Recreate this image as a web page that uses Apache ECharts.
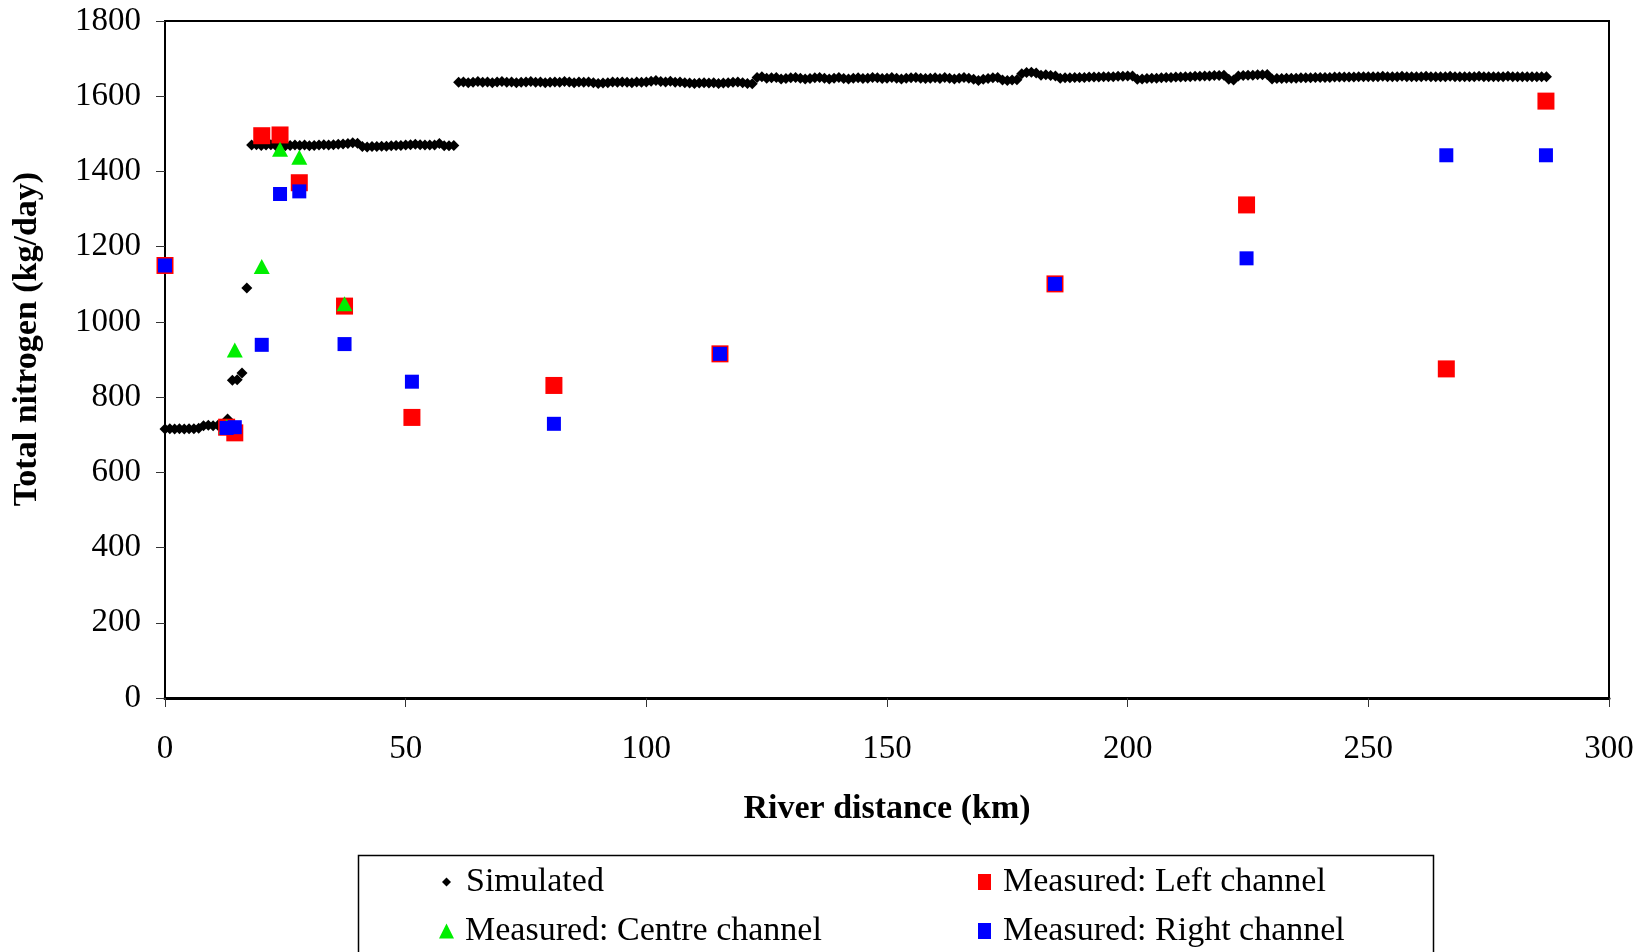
<!DOCTYPE html>
<html>
<head>
<meta charset="utf-8">
<script src="https://cdn.jsdelivr.net/npm/echarts@6/dist/echarts.min.js"></script>
<style>
html,body{margin:0;padding:0;background:#fff;}
#chart{width:1648px;height:952px;}
</style>
</head>
<body>
<div id="chart"></div>
<script>
// ---------- data ----------
const xTickLabels = ['0','50','100','150','200','250','300'];
const yTickLabels = ['0','200','400','600','800','1000','1200','1400','1600','1800'];

// Simulated total nitrogen, one value per model km
const simKm = [
  0,1,2,3,4,5,6,7,8,9,10,11,12,13,14,15,16,17,
  18,19,20,21,22,23,24,25,26,27,28,29,30,31,32,33,34,35,36,37,38,39,40,41,42,43,44,45,46,47,48,49,50,51,52,53,54,55,56,57,58,59,60,
  61,62,63,64,65,66,67,68,69,70,71,72,73,74,75,76,77,78,79,80,81,82,83,84,85,86,87,88,89,90,
  91,92,93,94,95,96,97,98,99,100,101,102,103,104,105,106,107,108,109,110,111,112,113,114,115,116,117,118,119,120,121,122,
  123,124,125,126,127,128,129,130,131,132,133,134,135,136,137,138,139,140,141,142,143,144,145,146,147,148,149,150,
  151,152,153,154,155,156,157,158,159,160,161,162,163,164,165,166,167,168,169,170,171,172,173,
  174,175,176,177,178,179,180,181,182,183,184,185,
  186,187,188,189,190,191,192,193,194,195,196,197,198,199,200,201,
  202,203,204,205,206,207,208,209,210,211,212,213,214,215,216,217,218,219,220,221,222,
  223,224,225,226,227,228,229,
  230,231,232,233,234,235,236,237,238,239,240,241,242,243,244,245,246,247,248,249,250,
  251,252,253,254,255,256,257,258,259,260,261,262,263,264,265,266,267,268,269,270,
  271,272,273,274,275,276,277,278,279,280,281,282,283,284,285,286,287
];
const simTN = [
  715,716,715,716,715,716,716,717,724,725,724,725,726,742,845,846,864,1090,
  1470,1471,1469,1470,1471,1469,1470,1468,1469,1470,1469,1470,1468,1469,1470,1471,1470,1471,1472,1473,1474,1476,1475,1466,1465,1466,1466,1467,1467,1468,1469,1469,1470,1471,1472,1471,1470,1470,1470,1474,1468,1468,1469,
  1637,1638,1636,1637,1639,1637,1638,1636,1638,1639,1637,1638,1636,1637,1638,1639,1637,1638,1636,1637,1638,1637,1639,1638,1636,1638,1637,1638,1636,1634,
  1635,1636,1638,1637,1638,1637,1636,1638,1637,1638,1640,1642,1639,1638,1640,1637,1638,1636,1635,1634,1635,1636,1635,1636,1634,1635,1636,1637,1638,1636,1634,1633,
  1650,1652,1648,1649,1650,1646,1647,1649,1650,1648,1646,1647,1649,1650,1648,1646,1648,1650,1647,1646,1648,1649,1647,1648,1650,1649,1647,1648,
  1650,1648,1646,1648,1649,1650,1648,1647,1648,1649,1647,1650,1648,1646,1648,1650,1648,1645,1642,1645,1647,1649,1650,
  1643,1642,1643,1644,1660,1663,1664,1662,1656,1657,1655,1654,
  1648,1649,1649,1650,1650,1650,1651,1651,1651,1652,1652,1652,1653,1653,1654,1654,
  1645,1646,1647,1648,1648,1649,1650,1650,1651,1651,1652,1652,1653,1653,1654,1654,1655,1655,1656,1645,1643,
  1654,1655,1656,1656,1657,1657,1658,
  1646,1647,1647,1648,1648,1648,1649,1649,1649,1650,1650,1650,1650,1651,1651,1651,1651,1651,1652,1652,1652,
  1652,1652,1653,1652,1652,1652,1653,1652,1652,1652,1652,1653,1652,1652,1652,1652,1653,1652,1652,1652,
  1652,1652,1653,1652,1652,1652,1652,1652,1653,1652,1652,1652,1652,1652,1652,1652,1652
];

// Measured: Left channel
const leftKm = [0,12.8,14.5,20.1,23.9,27.9,37.3,51.3,80.8,115.3,184.9,224.7,266.2,286.9];
const leftTN = [1150,720,705,1495,1497,1370,1042,746,831,915,1101,1311,875,1587];
// Measured: Centre channel
const centreKm = [12.8,14.5,20.1,23.9,27.9,37.3];
const centreTN = [722,925,1147,1459,1438,1048];
// Measured: Right channel
const rightKm = [0,12.8,14.5,20.1,23.9,27.9,37.3,51.3,80.8,115.3,184.9,224.7,266.2,286.9];
const rightTN = [1150,718,720,939,1340,1347,941,841,729,915,1101,1169,1443,1443];

const seriesNames = ['Simulated','Measured: Left channel','Measured: Centre channel','Measured: Right channel'];

// ---------- chart ----------
const pairs = (xs, ys) => xs.map((x, i) => [x, ys[i]]);
const FONT = 'Liberation Serif';

const chart = echarts.init(document.getElementById('chart'), null, {renderer: 'canvas'});
const legendText = {fontFamily: FONT, fontSize: 34, color: '#000', lineHeight: 36};

chart.setOption({
  backgroundColor: '#fff',
  animation: false,
  grid: {left: 165, right: 39, top: 21, bottom: 254, show: true, borderColor: '#000', borderWidth: 2, backgroundColor: 'transparent'},
  xAxis: {
    type: 'value', min: 0, max: 300, interval: 50,
    name: 'River distance (km)', nameLocation: 'middle', nameGap: 94,
    nameTextStyle: {fontFamily: FONT, fontSize: 34, fontWeight: 'bold', color: '#000'},
    axisLine: {show: true, lineStyle: {color: '#000', width: 3}},
    axisTick: {show: true, length: 9, lineStyle: {color: '#333', width: 1}},
    axisLabel: {margin: 35, fontFamily: FONT, fontSize: 33, color: '#000',
      formatter: (v) => xTickLabels[Math.round(v / 50)] ?? String(v)},
    splitLine: {show: false}
  },
  yAxis: {
    type: 'value', min: 0, max: 1800, interval: 200,
    axisLine: {show: true, lineStyle: {color: '#000', width: 2}},
    axisTick: {show: true, length: 9, lineStyle: {color: '#333', width: 1}},
    axisLabel: {margin: 24, fontFamily: FONT, fontSize: 33, color: '#000',
      formatter: (v) => yTickLabels[Math.round(v / 200)] ?? String(v)},
    splitLine: {show: false}
  },
  graphic: [
    {type: 'text', x: 27, y: 339, rotation: Math.PI / 2, silent: true,
      style: {text: 'Total nitrogen (kg/day)', fontFamily: FONT, fontSize: 34, fontWeight: 'bold', fill: '#000', align: 'center', verticalAlign: 'middle'}},
    {type: 'rect', shape: {x: 358.5, y: 855.5, width: 1075, height: 200}, silent: true,
      style: {fill: 'none', stroke: '#000', lineWidth: 1.5}}
  ],
  legend: [
    {data: [{name: seriesNames[0], icon: 'diamond'}], left: 442, top: 864, padding: 0,
      itemWidth: 9, itemHeight: 9, textStyle: Object.assign({padding: [0, 0, 0, 10]}, legendText), selectedMode: false},
    {data: [{name: seriesNames[2], icon: 'triangle'}], left: 439, top: 913, padding: 0,
      itemWidth: 15, itemHeight: 15, textStyle: Object.assign({padding: [0, 0, 0, 6]}, legendText), selectedMode: false},
    {data: [{name: seriesNames[1], icon: 'rect'}], left: 978, top: 864, padding: 0,
      itemWidth: 13, itemHeight: 16, textStyle: Object.assign({padding: [0, 0, 0, 7]}, legendText), selectedMode: false},
    {data: [{name: seriesNames[3], icon: 'rect'}], left: 978, top: 913, padding: 0,
      itemWidth: 13, itemHeight: 16, textStyle: Object.assign({padding: [0, 0, 0, 7]}, legendText), selectedMode: false}
  ],
  series: [
    {name: seriesNames[0], type: 'scatter', symbol: 'diamond', symbolSize: 11,
      itemStyle: {color: '#000', opacity: 1}, data: pairs(simKm, simTN), z: 2},
    {name: seriesNames[1], type: 'scatter', symbol: 'rect', symbolSize: 17,
      itemStyle: {color: '#ff0000', opacity: 1}, data: pairs(leftKm, leftTN), z: 3},
    {name: seriesNames[2], type: 'scatter', symbol: 'triangle', symbolSize: [16, 15],
      itemStyle: {color: '#00ee00', opacity: 1}, data: pairs(centreKm, centreTN), z: 4},
    {name: seriesNames[3], type: 'scatter', symbol: 'rect', symbolSize: 14,
      itemStyle: {color: '#0000ff', opacity: 1}, data: pairs(rightKm, rightTN), z: 5}
  ]
});
</script>
</body>
</html>
